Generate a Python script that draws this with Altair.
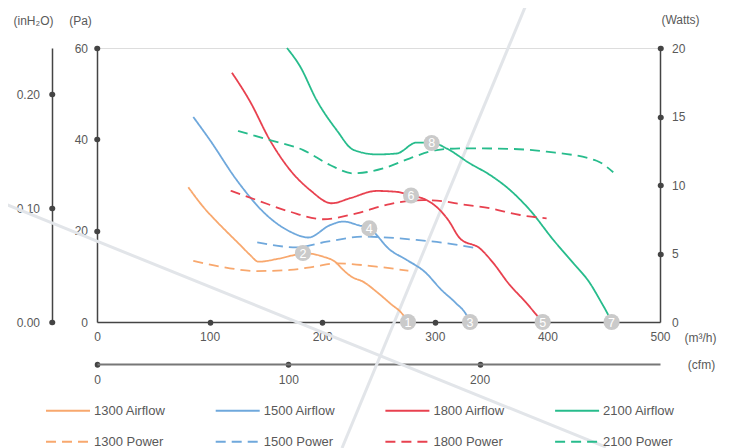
import altair as alt
import pandas as pd

FONT = "Liberation Sans"
TXT = "#595959"
AX = "#444444"

# ---------------- data (x in m3/h, airflow in Pa, power in Watts) ----------------
series_order = ["1300 Airflow", "1500 Airflow", "1800 Airflow", "2100 Airflow",
                "1300 Power", "1500 Power", "1800 Power", "2100 Power"]
series_colors = ["#F8A86E", "#6FA8DC", "#E8414F", "#27BC8C",
                 "#F8A86E", "#6FA8DC", "#E8414F", "#27BC8C"]

a1300_x = [81.1, 94.4, 106.3, 115.1, 127.0, 135.9, 143.3, 160.0, 177.4, 183.0, 201.0, 211.4, 218.7, 226.1, 236.5, 248.4, 260.2, 272.0, 276.0]
a1300_y = [29.5, 25.2, 22.0, 19.8, 16.9, 14.7, 13.2, 13.8, 14.8, 15.1, 14.3, 13.2, 11.4, 9.9, 8.8, 6.6, 4.1, 1.5, 0.0]

a1500_x = [85.5, 100.4, 124.0, 150.7, 171.4, 187.7, 206.9, 218.7, 232.1, 241.8, 260.2, 275.0, 291.0, 306.0, 318.0, 328.2, 331.3]
a1500_y = [44.9, 39.8, 31.1, 23.4, 19.8, 18.5, 21.2, 22.0, 21.2, 20.5, 15.8, 13.6, 11.0, 7.0, 4.3, 1.5, 0.0]

a1800_x = [119.8, 135.9, 153.6, 171.4, 189.2, 208.4, 224.7, 248.4, 266.2, 278.9, 292.7, 304.6, 312.0, 322.4, 340.1, 352.0, 365.3, 381.6, 390.5, 395.8]
a1800_y = [54.6, 48.3, 39.8, 33.3, 28.9, 26.0, 27.1, 28.7, 28.5, 27.7, 26.7, 24.5, 22.3, 18.3, 16.1, 12.9, 8.5, 4.1, 1.5, 0.0]

a2100_x = [168.7, 180.3, 195.0, 212.9, 227.7, 248.4, 266.2, 283.8, 297.2, 310.5, 331.3, 349.0, 366.8, 384.5, 405.2, 423.0, 437.8, 446.7, 454.1, 457.0]
a2100_y = [60.0, 56.0, 48.6, 42.0, 37.7, 36.7, 36.9, 39.3, 39.3, 38.0, 34.7, 32.2, 28.9, 24.5, 18.0, 12.9, 8.5, 4.8, 1.5, 0.0]

p1300_x = [85.5, 118.0, 141.8, 171.4, 192.0, 212.9, 248.3, 276.5]
p1300_w = [4.47, 3.92, 3.72, 3.80, 4.03, 4.28, 4.04, 3.74]

p1500_x = [142.3, 177.4, 204.0, 236.5, 283.8, 310.0, 337.1]
p1500_w = [5.82, 5.45, 5.86, 6.23, 5.99, 5.75, 5.38]

p1800_x = [118.7, 141.8, 171.4, 201.0, 230.6, 260.2, 289.8, 310.5, 322.4, 349.0, 375.7, 399.3]
p1800_w = [9.58, 8.90, 8.05, 7.50, 7.93, 8.61, 8.90, 8.78, 8.61, 8.30, 7.81, 7.57]

p2100_x = [125.2, 153.6, 183.2, 206.9, 227.6, 254.3, 278.0, 301.7, 325.3, 369.7, 399.3, 443.7, 458.5]
p2100_w = [13.94, 13.28, 12.55, 11.46, 10.85, 11.22, 11.95, 12.55, 12.68, 12.63, 12.43, 11.77, 10.93]

# numbered operating-point markers
marker_labels = ["1", "2", "3", "4", "5", "6", "7", "8"]
marker_x = [276.2, 182.9, 331.3, 241.8, 395.8, 278.9, 457.0, 297.2]
marker_y = [0.0, 15.1, 0.0, 20.5, 0.0, 27.7, 0.0, 39.2]

# axis ticks
pa_ticks = [0, 20, 40, 60]
watt_ticks = [0, 5, 10, 15, 20]
m3h_ticks = [0, 100, 200, 300, 400, 500]
inh2o_ticks = [0.0, 0.1, 0.2]
cfm_ticks = [0, 100, 200]

# decorative background diagonals (in m3/h, Pa)
deco_line = ["a", "a", "b", "b"]
deco_x = [-86.1, 452.0, 382.8, 217.6]
deco_y = [26.3, -27.4, 70.5, -27.6]

# ---------------- tables ----------------
air_df = pd.concat([
    pd.DataFrame({"series": "1300 Airflow", "x": a1300_x, "y": a1300_y}),
    pd.DataFrame({"series": "1500 Airflow", "x": a1500_x, "y": a1500_y}),
    pd.DataFrame({"series": "1800 Airflow", "x": a1800_x, "y": a1800_y}),
    pd.DataFrame({"series": "2100 Airflow", "x": a2100_x, "y": a2100_y}),
])
pow_df = pd.concat([
    pd.DataFrame({"series": "1300 Power", "x": p1300_x, "w": p1300_w}),
    pd.DataFrame({"series": "1500 Power", "x": p1500_x, "w": p1500_w}),
    pd.DataFrame({"series": "1800 Power", "x": p1800_x, "w": p1800_w}),
    pd.DataFrame({"series": "2100 Power", "x": p2100_x, "w": p2100_w}),
])
mk_df = pd.DataFrame({"label": marker_labels, "x": marker_x, "y": marker_y})
deco_df = pd.DataFrame({"line": deco_line, "x": deco_x, "y": deco_y})
inh_df = pd.DataFrame({"v": inh2o_ticks})
cfm_df = pd.DataFrame({"v": cfm_ticks})

W, H = 563, 274
X_DOM = [0, 500]
PA_DOM = [0, 60]
W_DOM = [0, 20]
IN_DOM = [0, 60 / 249.089]
CFM_DOM = [0, 500 / 1.69901]

xs = alt.Scale(domain=X_DOM, nice=False, zero=False)
ys_pa = alt.Scale(domain=PA_DOM, nice=False, zero=False)

axis_style = dict(
    grid=False, domainColor=AX, domainWidth=1.5, tickColor=AX, tickWidth=5.5,
    tickSize=0.5, tickCap="round", labelColor=TXT, labelFontSize=12, labelFont=FONT,
    titleFont=FONT, titleFontSize=12, titleColor=TXT, titleFontWeight="normal",
    titleAngle=0, titleAlign="center", titleBaseline="middle",
    labelFlush=False, labelOverlap=False,
)

legend = alt.Legend(
    title=None, orient="none", legendX=-52, legendY=355.7, columns=4, direction="horizontal",
    symbolType="stroke", symbolSize=1936, symbolStrokeWidth=2, clipHeight=14,
    rowPadding=17, columnPadding=48.7, gridAlign="all", padding=0, offset=0,
    labelFontSize=13, labelFont=FONT, labelColor=TXT, labelOffset=3,
)
color_enc = alt.Color("series:N", scale=alt.Scale(domain=series_order, range=series_colors), legend=legend)
dash_enc = alt.StrokeDash("series:N", scale=alt.Scale(domain=series_order,
                          range=[[1, 0]] * 4 + [[10, 6]] * 4), legend=legend)

deco = alt.Chart(deco_df).mark_line(clip=False, color="#E2E5E9", strokeWidth=3).encode(
    x=alt.X("x:Q", scale=xs, axis=None),
    y=alt.Y("y:Q", scale=ys_pa, axis=None),
    detail="line:N",
)

airflow = alt.Chart(air_df).mark_line(strokeWidth=1.8, interpolate="monotone").encode(
    x=alt.X("x:Q", scale=xs, axis=alt.Axis(
        orient="bottom", values=m3h_ticks, title="(m³/h)", titleX=603, titleY=15,
        labelPadding=9,
        tickOpacity={"condition": {"test": "datum.value == 0 || datum.value == 500", "value": 0}, "value": 1},
        **axis_style)),
    y=alt.Y("y:Q", scale=ys_pa, axis=alt.Axis(
        orient="left", values=pa_ticks, title="(Pa)", titleX=-17, titleY=-28,
        labelPadding=9,
        tickOpacity={"condition": {"test": "datum.value == 0", "value": 0}, "value": 1},
        **axis_style)),
    color=color_enc,
    strokeDash=dash_enc,
    detail="series:N",
)

power = alt.Chart(pow_df).mark_line(strokeWidth=1.8, interpolate="monotone").encode(
    x=alt.X("x:Q", scale=xs, axis=None),
    y=alt.Y("w:Q", scale=alt.Scale(domain=W_DOM, nice=False, zero=False), axis=alt.Axis(
        orient="right", values=watt_ticks, title="(Watts)", titleX=20, titleY=-29,
        labelPadding=11,
        tickOpacity={"condition": {"test": "datum.value == 0", "value": 0}, "value": 1},
        **axis_style)),
    color=color_enc,
    strokeDash=dash_enc,
    detail="series:N",
)

inh_axis = alt.Chart(inh_df).mark_point(opacity=0).encode(
    x=alt.value(0),
    y=alt.Y("v:Q", scale=alt.Scale(domain=IN_DOM, nice=False, zero=False), axis=alt.Axis(
        orient="left", offset=45, values=inh2o_ticks, format=".2f", title="(inH₂O)",
        titleX=-19, titleY=-28, labelPadding=12, **axis_style)),
)

cfm_axis = alt.Chart(cfm_df).mark_point(opacity=0).encode(
    y=alt.value(0),
    x=alt.X("v:Q", scale=alt.Scale(domain=CFM_DOM, nice=False, zero=False), axis=alt.Axis(
        orient="bottom", offset=42, values=cfm_ticks, title="(cfm)", titleX=604, titleY=0,
        labelPadding=10, **{**axis_style, "domainColor": "#777777", "domainWidth": 2})),
)

mk_base = alt.Chart(mk_df).encode(
    x=alt.X("x:Q", scale=xs, axis=None),
    y=alt.Y("y:Q", scale=ys_pa, axis=None),
)
mk_circles = mk_base.mark_circle(size=260, color="#CACACA", opacity=1)
mk_text = mk_base.mark_text(color="white", fontSize=12.5, font=FONT, align="center",
                            baseline="middle", dy=0.5).encode(text="label:N")

chart = alt.layer(
    deco, airflow, power, inh_axis, cfm_axis, mk_circles, mk_text
).resolve_scale(
    x="independent", y="independent"
).properties(
    width=W, height=H,
    autosize=alt.AutoSizeParams(type="none"),
    padding={"left": 89, "top": 40, "right": 63, "bottom": 126},
).configure_view(stroke=None).configure(font=FONT)

chart.save("out.html", embed_options={"renderer": "svg", "actions": False})
